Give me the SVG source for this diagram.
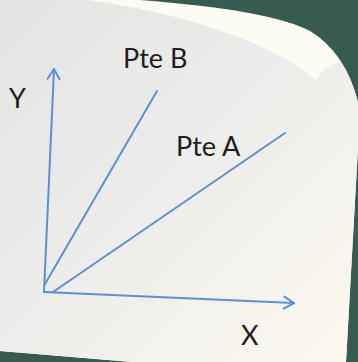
<svg xmlns="http://www.w3.org/2000/svg" width="358" height="362" viewBox="0 0 358 362">
  <defs>
    <style>
      .ax { fill: none; stroke: #5f8fd2; stroke-width: 2; stroke-linecap: round; }
      .lbl { font-family: Lato, "Open Sans", "Liberation Sans", sans-serif; font-size: 27px; fill: #1e1e1e; }
    </style>
    <linearGradient id="paperGrad" gradientUnits="userSpaceOnUse" x1="0" y1="0" x2="358" y2="362">
      <stop offset="0" stop-color="#e4e4e4"/>
      <stop offset="0.5" stop-color="#ededeb"/>
      <stop offset="1" stop-color="#fcf9ee"/>
    </linearGradient>
    <clipPath id="paperClip">
      <path d="M -5,-5 L 140,-5 L 140,0 Q 270,10 310,31 Q 345,52 358,102 L 359,130 L 346,362 L 132,362 L 0,351 L -5,351 Z"/>
    </clipPath>
    <marker id="arrow" markerUnits="userSpaceOnUse" viewBox="-12 -8 14 16" markerWidth="14" markerHeight="16" refX="0" refY="0" orient="auto">
      <path d="M -10,-6 L 0,0 L -10,6" fill="none" stroke="#5f8fd2" stroke-width="2" stroke-linecap="round" stroke-linejoin="round"/>
    </marker>
  </defs>

  <rect x="0" y="0" width="358" height="362" fill="#375a51"/>

  <g id="paper" clip-path="url(#paperClip)">
    <rect x="-5" y="-5" width="370" height="370" fill="#fdfcf3"/>
    <path d="M -5,-5 L 88,-5 L 88,0 C 150,9 255,30 316,80 C 322,70 332,62 342,62 L 400,55 L 400,400 L -5,400 Z" fill="url(#paperGrad)"/>
  </g>

  <g id="connectors">
    <line id="y-axis" class="ax" x1="44" y1="292" x2="54" y2="69" marker-end="url(#arrow)"/>
    <line id="x-axis" class="ax" x1="44" y1="292" x2="294" y2="303" marker-end="url(#arrow)"/>
    <line id="pte-b-line" class="ax" x1="45" y1="284" x2="157" y2="91"/>
    <line id="pte-a-line" class="ax" x1="53" y1="292" x2="285" y2="133"/>
  </g>

  <g id="label-y"><text class="lbl" x="9" y="108">Y</text></g>
  <g id="label-x"><text class="lbl" x="241" y="345">X</text></g>
  <g id="label-pte-b"><text class="lbl" x="123" y="68">Pte B</text></g>
  <g id="label-pte-a"><text class="lbl" x="176" y="156">Pte A</text></g>
</svg>
